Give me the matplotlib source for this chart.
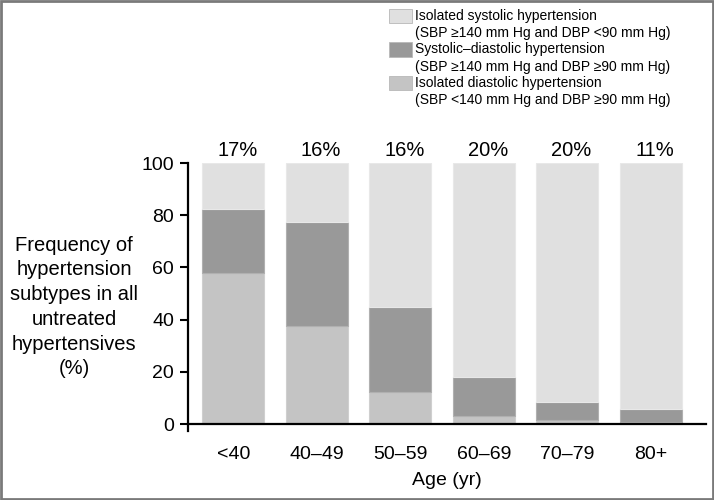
import matplotlib
matplotlib.use("Agg")
import matplotlib.pyplot as plt
from matplotlib.patches import Rectangle

plt.rcParams['font.family'] = ['Liberation Sans', 'DejaVu Sans']

# data
ages = ['<40', '40–49', '50–59', '60–69', '70–79', '80+']
diastolic = [58, 37.5, 12.5, 3, 1.5, 1]
sys_dia = [24.5, 40, 32.5, 15, 7, 5]
systolic = [100 - d - s for d, s in zip(diastolic, sys_dia)]
share = ['17%', '16%', '16%', '20%', '20%', '11%']

labels = [
    ('Isolated systolic hypertension', '(SBP ≥140 mm Hg and DBP <90 mm Hg)'),
    ('Systolic–diastolic hypertension', '(SBP ≥140 mm Hg and DBP ≥90 mm Hg)'),
    ('Isolated diastolic hypertension', '(SBP <140 mm Hg and DBP ≥90 mm Hg)'),
]
c_sys, c_sd, c_dia = '#e0e0e0', '#999999', '#c4c4c4'

fig = plt.figure(figsize=(7.14, 5), dpi=100)
ax = fig.add_axes([0.263, 0.138, 0.726, 0.536])

x = range(len(ages))
w = 0.74
ax.bar(x, diastolic, w, color=c_dia, edgecolor='#cfcfcf', linewidth=0.8)
ax.bar(x, sys_dia, w, bottom=diastolic, color=c_sd, edgecolor='#b0b0b0', linewidth=0.8)
bot = [d + s for d, s in zip(diastolic, sys_dia)]
ax.bar(x, systolic, w, bottom=bot, color=c_sys, edgecolor='#e8e8e8', linewidth=0.8)

for i, s in enumerate(share):
    ax.annotate(s, (i, 100), xytext=(3, 2), textcoords='offset points',
                ha='center', va='bottom', fontsize=14.5)

ax.set_xlim(-0.546, 5.665)
ax.set_ylim(-2.6, 100)
ax.set_yticks([0, 20, 40, 60, 80, 100])
ax.set_xticks(list(x))
ax.set_xticklabels(ages)
ax.tick_params(axis='y', labelsize=14, length=6, width=1.5, direction='out', pad=4)
ax.tick_params(axis='x', labelsize=14, length=0, pad=16)
for side in ['top', 'right']:
    ax.spines[side].set_visible(False)
ax.spines['left'].set_linewidth(1.6)
ax.spines['bottom'].set_linewidth(1.6)
ax.spines['bottom'].set_position(('data', 0))
ax.set_xlabel('Age (yr)', fontsize=14, labelpad=6)

fig.text(0.104, 0.386,
         'Frequency of\nhypertension\nsubtypes in all\nuntreated\nhypertensives\n(%)',
         ha='center', va='center', fontsize=14.5, linespacing=1.38)

# legend drawn by hand (patch aligned with first line of each entry)
y0 = 0.968
for k, (col, (l1, l2)) in enumerate(zip([c_sys, c_sd, c_dia], labels)):
    yt = y0 - k * 0.067
    fig.patches.append(Rectangle((0.545, yt - 0.014), 0.032, 0.028,
                                 transform=fig.transFigure, facecolor=col,
                                 edgecolor='#b8b8b8', linewidth=0.6))
    fig.text(0.581, yt, l1, ha='left', va='center', fontsize=10)
    fig.text(0.581, yt - 0.034, l2, ha='left', va='center', fontsize=10)

# grey frame around the figure
fig.patches.append(Rectangle((0.001, 0.002), 0.997, 0.996, transform=fig.transFigure,
                             fill=False, edgecolor='#7a7a7a', linewidth=2))

fig.savefig('out.png', dpi=100)
